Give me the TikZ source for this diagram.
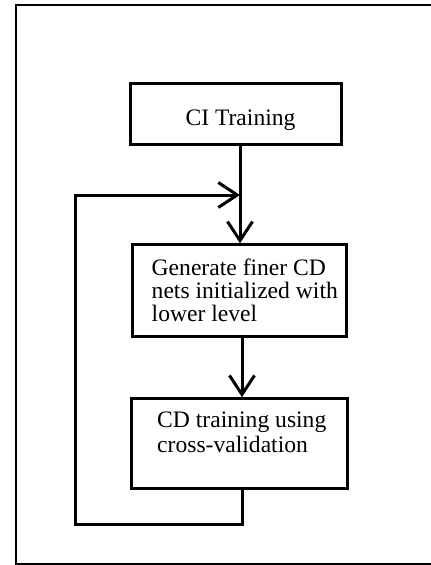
\documentclass[tikz,border=0pt]{standalone}
\usepackage{fontspec}
\setmainfont{Liberation Serif}
\usetikzlibrary{arrows.meta}
\begin{document}
\begin{tikzpicture}[x=1pt,y=-1pt,
  box/.style={draw, line width=3pt, rectangle, inner sep=0pt},
  conn/.style={line width=3pt},
  tip/.style={-{Straight Barb[length=19pt,width=25pt]}},
  txt/.style={inner sep=0pt, font=\fontsize{23.6}{26}\selectfont}]
\useasboundingbox (0,0) rectangle (431,565);
% outer frame
\coordinate (fa) at (433,4.5);
\coordinate (fb) at (15.5,4.5);
\coordinate (fc) at (15.5,563.5);
\coordinate (fd) at (433,563.5);
\draw[line width=2pt] (fa) -- (fb) -- (fc) -- (fd);
% boxes
\node[box, minimum width=211pt, minimum height=61pt] (ci) at (235.5,113.5) {};
\node[box, minimum width=214pt, minimum height=92pt] (gen) at (239.6,290.8) {};
\node[box, minimum width=216pt, minimum height=90pt] (cd) at (239.7,443.7) {};
% texts
\node[txt, anchor=base] (citext) at (240.5,125) {CI Training};
\node[txt, anchor=base west] (g1) at (151.5,275) {Generate finer CD};
\node[txt, anchor=base west] (g2) at (151.5,298.3) {nets initialized with};
\node[txt, anchor=base west] (g3) at (151.5,321.7) {lower level};
\node[txt, anchor=base west] (c1) at (157,427) {CD training using};
\node[txt, anchor=base west] (c2) at (157,452) {cross-validation};
% connectors
\coordinate (j) at (240,195);
\coordinate (k) at (242,0);
\coordinate (lb) at (242,524);
\coordinate (ll) at (75,524);
\coordinate (lt) at (75,195);
\draw[conn, tip] (ci.south -| j) -- (gen.north -| j);
\draw[conn, tip] (gen.south -| k) -- (cd.north -| k);
\draw[conn, tip] (cd.south -| k) -- (lb) -- (ll) -- (lt) -- (j);
\end{tikzpicture}
\end{document}
